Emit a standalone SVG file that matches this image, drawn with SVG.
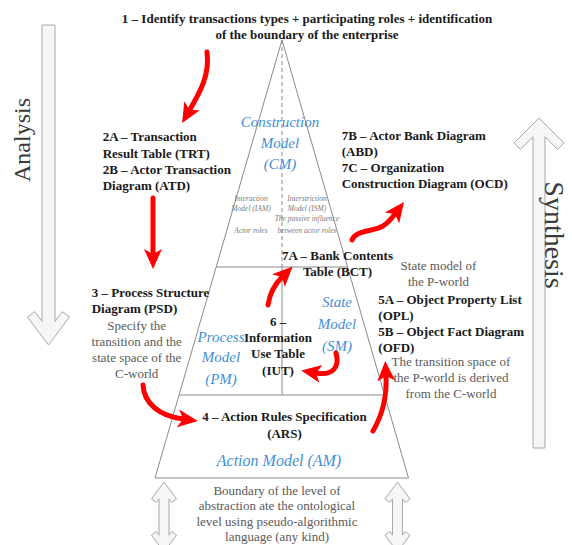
<svg xmlns="http://www.w3.org/2000/svg" width="572" height="545" viewBox="0 0 572 545">
<style>
.b{font-family:"Liberation Serif",serif;font-weight:bold;font-size:13px;fill:#1a1a1a}
.g{font-family:"Liberation Serif",serif;font-size:13px;fill:#5a5a5a}
.m{font-family:"Liberation Serif",serif;font-style:italic;font-size:15px;fill:#3f8fd6}
.s{font-family:"Liberation Serif",serif;font-style:italic;font-size:7.5px;fill:#7a7a7a}
.big{font-family:"Liberation Serif",serif;font-size:24px;fill:#3a3a3a}
.c{text-anchor:middle}
.edge{fill:none;stroke:#8a8a8a;stroke-width:1}
.dash{fill:none;stroke:#8a8a8a;stroke-width:1;stroke-dasharray:4 3}
.hollow{fill:#f6f6f6;stroke:#a8a8a8;stroke-width:1}
.red{fill:none;stroke:#f00;stroke-width:5;stroke-linecap:round}
</style>
<defs>
<marker id="rh" viewBox="0 0 20 20" refX="5" refY="10" markerWidth="20" markerHeight="20" markerUnits="userSpaceOnUse" orient="auto">
<path d="M0,1 L20,10 L0,19 L5,10 Z" fill="#f00"/>
</marker>
</defs>
<rect width="572" height="545" fill="#fff"/>

<g id="analysis-arrow">
<path class="hollow" d="M42,25 H55 V321.3 L62.3,311.6 L69.5,317 L48.5,345 L27.5,317 L34.7,311.6 L42,321.3 Z"/>
<text class="big c" transform="translate(30,140) rotate(-90)">Analysis</text>
</g>
<g id="synthesis-arrow">
<path class="hollow" d="M533,448 H545 V136.8 L557.6,149.4 L564,143 L539,118 L514,143 L520.4,149.4 L533,136.8 Z"/>
<text class="big c" transform="translate(545,235) rotate(90)" style="font-size:28px">Synthesis</text>
</g>
<g id="boundary-arrows">
<path class="hollow" d="M164,482 L176.5,499 L171.7,502.6 L169,498.9 V535.1 L171.7,531.4 L176.5,535 L164,552 L151.5,535 L156.3,531.4 L159,535.1 V498.9 L156.3,502.6 L151.5,499 Z"/>
<path class="hollow" d="M397.5,482 L410,499 L405.2,502.6 L402.5,498.9 V535.1 L405.2,531.4 L410,535 L397.5,552 L385,535 L389.8,531.4 L392.5,535.1 V498.9 L389.8,502.6 L385,499 Z"/>
</g>

<g id="pyramid">
<path class="edge" d="M282,40 L155,478 H408.5 Z"/>
<line class="dash" x1="282" y1="40" x2="282" y2="267"/>
<line class="edge" x1="282" y1="267" x2="282" y2="395"/>
<line class="edge" x1="216.5" y1="267" x2="347.7" y2="267"/>
<line class="edge" x1="179.3" y1="395" x2="384.6" y2="395"/>
</g>

<g id="title">
<text class="b c" x="307" y="22.5">1 – Identify transactions types + participating roles + identification</text>
<text class="b c" x="307" y="39">of the boundary of the enterprise</text>
</g>
<g id="cm">
<text class="m c" x="280" y="127">Construction</text>
<text class="m c" x="280" y="148">Model</text>
<text class="m c" x="280" y="169">(CM)</text>
</g>
<g id="iam">
<text class="s c" x="251" y="201">Interaction</text>
<text class="s c" x="251" y="211">Model (IAM)</text>
<text class="s c" x="251" y="232.5">Actor roles</text>
</g>
<g id="ism">
<text class="s c" x="307" y="201">Interstriction</text>
<text class="s c" x="307" y="211">Model (ISM)</text>
<text class="s c" x="307" y="221">The passive influence</text>
<text class="s c" x="307" y="232.5">between actor roles</text>
</g>
<g id="n2">
<text class="b" x="102.7" y="141">2A – Transaction</text>
<text class="b" x="102.7" y="157.5">Result Table (TRT)</text>
<text class="b" x="102.7" y="174">2B – Actor Transaction</text>
<text class="b" x="102.7" y="190">Diagram (ATD)</text>
</g>
<g id="n7bc">
<text class="b" x="341.7" y="139.5">7B – Actor Bank Diagram</text>
<text class="b" x="341.7" y="156">(ABD)</text>
<text class="b" x="341.7" y="172">7C – Organization</text>
<text class="b" x="341.7" y="188">Construction Diagram (OCD)</text>
</g>
<g id="n7a">
<text class="b c" x="337.5" y="259.5">7A – Bank Contents</text>
<text class="b c" x="337.5" y="276">Table (BCT)</text>
</g>
<g id="pworld">
<text class="g c" x="438.5" y="270">State model of</text>
<text class="g c" x="438.5" y="286">the P-world</text>
</g>
<g id="n3">
<text class="b" x="91.7" y="297">3 – Process Structure</text>
<text class="b" x="91.7" y="313">Diagram (PSD)</text>
<text class="g c" x="136.7" y="329.5">Specify the</text>
<text class="g c" x="136.7" y="345.5">transition and the</text>
<text class="g c" x="136.7" y="362">state space of the</text>
<text class="g c" x="136.7" y="378">C-world</text>
</g>
<g id="pm">
<text class="m c" x="221" y="342">Process</text>
<text class="m c" x="221" y="362">Model</text>
<text class="m c" x="221" y="384">(PM)</text>
</g>
<g id="n6">
<text class="b c" x="278" y="326">6 –</text>
<text class="b c" x="278" y="342">Information</text>
<text class="b c" x="278" y="358">Use Table</text>
<text class="b c" x="278" y="374.5">(IUT)</text>
</g>
<g id="sm">
<text class="m c" x="337" y="307">State</text>
<text class="m c" x="337" y="329">Model</text>
<text class="m c" x="337" y="350.5">(SM)</text>
</g>
<g id="n5">
<text class="b" x="378.3" y="303.5">5A – Object Property List</text>
<text class="b" x="378.3" y="319.5">(OPL)</text>
<text class="b" x="378.3" y="335.5">5B – Object Fact Diagram</text>
<text class="b" x="378.3" y="351.5">(OFD)</text>
<text class="g c" x="451" y="366">The transition space of</text>
<text class="g c" x="451" y="382">the P-world is derived</text>
<text class="g c" x="451" y="398">from the C-world</text>
</g>
<g id="n4">
<text class="b c" x="284.5" y="421">4 – Action Rules Specification</text>
<text class="b c" x="284.5" y="437.5">(ARS)</text>
</g>
<g id="am">
<text class="m c" x="279" y="465.5" style="font-size:16px">Action Model (AM)</text>
</g>
<g id="boundary">
<text class="g c" x="277" y="494.5">Boundary of the level of</text>
<text class="g c" x="277" y="510">abstraction ate the ontological</text>
<text class="g c" x="277" y="525.5">level using pseudo-algorithmic</text>
<text class="g c" x="277" y="541">language (any kind)</text>
</g>

<g id="connectors">
<path class="red" marker-end="url(#rh)" d="M207,52 C210,75 200,92 189.6,110"/>
<path class="red" marker-end="url(#rh)" d="M153,198 V254"/>
<path class="red" marker-end="url(#rh)" d="M143,385 C144,404 160,416 183,419"/>
<path class="red" marker-end="url(#rh)" d="M373,431 C384,412 387,395 386,376"/>
<path class="red" marker-end="url(#rh)" d="M336,353 C340,367 333,376 316,373"/>
<path class="red" marker-end="url(#rh)" d="M268,305 C270,292 276,283 282,277"/>
<path class="red" marker-end="url(#rh)" d="M352,240 C356,230 372,232 383,226 C389,222 392,218 395,214"/>
</g>
</svg>
